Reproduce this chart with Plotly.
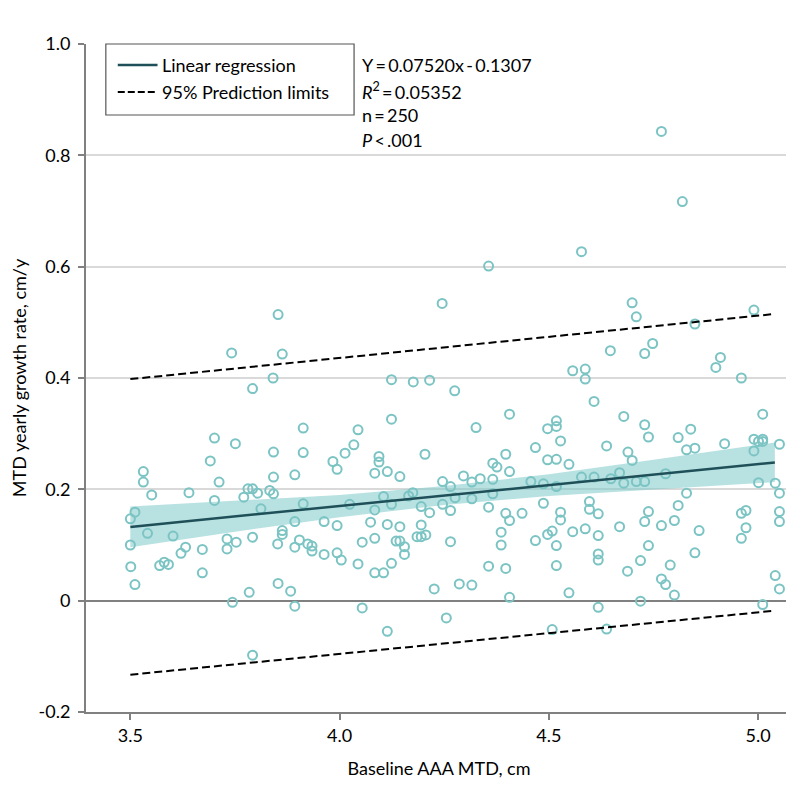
import plotly.graph_objects as go

# ---- data ----
x_pts = [
    3.853, 3.742, 3.863, 3.841, 3.792, 3.913, 3.701, 3.751, 3.842, 3.913, 3.691,
    3.531, 3.531, 3.551, 3.712, 3.640, 3.701, 3.771, 3.781, 3.792, 3.804, 3.833, 3.842, 3.842, 3.893,
    3.913, 3.812, 3.500, 3.511, 3.541, 3.602, 3.500, 3.501, 3.511, 3.570, 3.581, 3.591, 3.621, 3.632,
    3.672, 3.672, 3.731, 3.731, 3.753, 3.792, 3.863, 3.863, 3.852, 3.893, 3.893, 3.904, 3.924, 3.934,
    3.934, 3.744, 3.784, 3.853, 3.883, 3.893, 3.792,
    4.245, 4.124, 4.176, 4.215, 4.275, 4.124, 4.406, 4.044, 4.326, 4.497, 4.034, 4.013, 3.984, 4.094,
    4.094, 4.204, 4.397, 4.468, 4.497, 4.366, 4.376,
    3.994, 4.084, 4.114, 4.144, 4.246, 4.265, 4.296, 4.316, 4.336, 4.366, 4.406, 4.457, 4.487, 4.024,
    4.084, 4.105, 4.124, 4.165, 4.175, 4.195, 4.215, 4.246, 4.265, 4.276, 4.316, 4.356, 4.366, 4.397,
    4.406, 4.436, 4.487, 3.963, 3.994, 4.074, 4.114, 4.144, 4.195, 4.084, 4.054, 4.135, 4.144, 4.155,
    4.155, 4.185, 4.195, 4.206, 4.265, 4.386, 4.386, 4.468, 4.497, 3.963, 3.994, 4.004, 4.044, 4.084,
    4.105, 4.124, 4.356, 4.397, 4.226, 4.286, 4.316, 4.406, 4.054, 4.255, 4.114,
    4.699, 4.709, 4.990, 4.849, 4.647, 4.729, 4.748, 4.899, 4.910, 4.557, 4.587, 4.587, 4.960, 4.608,
    4.679, 4.729, 4.738, 4.518, 4.518, 4.528, 4.518, 4.548, 4.638, 4.689, 4.699, 4.809, 4.839, 4.829,
    4.849, 4.920, 5.011, 4.990, 5.001, 5.011, 5.011, 4.990, 5.051,
    4.518, 4.578, 4.608, 4.648, 4.669, 4.679, 4.709, 4.729, 4.779, 5.001, 5.041, 5.051, 4.829, 4.597,
    4.597, 4.618, 4.528, 4.528, 4.508, 4.557, 4.587, 4.618, 4.669, 4.738, 4.729, 4.809, 4.800, 4.769,
    4.859, 4.960, 4.971, 4.971, 4.960, 5.051, 5.051, 4.518, 4.518, 4.618, 4.618, 4.738, 4.719, 4.688,
    4.849, 4.790, 4.769, 4.779, 4.800, 4.548, 4.719, 4.618, 5.041, 5.051, 5.011, 4.508, 4.638,
    4.769, 4.819, 4.578, 4.356,
]
y_pts = [
    0.514, 0.445, 0.443, 0.400, 0.381, 0.310, 0.292, 0.282, 0.267, 0.266, 0.251,
    0.232, 0.213, 0.190, 0.213, 0.194, 0.180, 0.186, 0.201, 0.201, 0.193, 0.198, 0.222, 0.192, 0.226,
    0.174, 0.165, 0.147, 0.159, 0.121, 0.116, 0.100, 0.061, 0.029, 0.063, 0.069, 0.065, 0.085, 0.096,
    0.092, 0.050, 0.111, 0.093, 0.105, 0.114, 0.126, 0.119, 0.102, 0.142, 0.096, 0.109, 0.102, 0.098,
    0.089, -0.003, 0.015, 0.031, 0.017, -0.010, -0.098,
    0.534, 0.397, 0.393, 0.396, 0.377, 0.326, 0.335, 0.307, 0.311, 0.309, 0.280, 0.265, 0.250, 0.259,
    0.249, 0.263, 0.263, 0.275, 0.253, 0.247, 0.240,
    0.236, 0.229, 0.232, 0.223, 0.214, 0.205, 0.224, 0.213, 0.219, 0.218, 0.232, 0.214, 0.210, 0.173,
    0.163, 0.187, 0.173, 0.188, 0.194, 0.169, 0.158, 0.173, 0.162, 0.185, 0.183, 0.168, 0.192, 0.157,
    0.144, 0.157, 0.175, 0.142, 0.135, 0.141, 0.137, 0.133, 0.136, 0.112, 0.105, 0.107, 0.107, 0.097,
    0.083, 0.115, 0.115, 0.118, 0.106, 0.123, 0.100, 0.108, 0.119, 0.083, 0.086, 0.073, 0.066, 0.050,
    0.050, 0.067, 0.062, 0.058, 0.021, 0.030, 0.028, 0.006, -0.013, -0.031, -0.055,
    0.535, 0.510, 0.522, 0.497, 0.449, 0.444, 0.462, 0.419, 0.437, 0.413, 0.416, 0.398, 0.400, 0.358,
    0.331, 0.316, 0.294, 0.323, 0.313, 0.287, 0.254, 0.245, 0.278, 0.267, 0.252, 0.293, 0.308, 0.271,
    0.274, 0.282, 0.335, 0.290, 0.286, 0.290, 0.286, 0.269, 0.281,
    0.205, 0.222, 0.222, 0.219, 0.230, 0.211, 0.214, 0.214, 0.228, 0.212, 0.211, 0.193, 0.193, 0.178,
    0.164, 0.156, 0.159, 0.145, 0.125, 0.124, 0.129, 0.117, 0.133, 0.160, 0.142, 0.171, 0.144, 0.135,
    0.126, 0.157, 0.162, 0.131, 0.112, 0.160, 0.142, 0.099, 0.063, 0.084, 0.073, 0.099, 0.072, 0.053,
    0.086, 0.064, 0.039, 0.029, 0.010, 0.014, -0.001, -0.012, 0.045, 0.021, -0.007, -0.052, -0.051,
    0.843, 0.717, 0.627, 0.601,
]

# regression line, confidence band and prediction limits
fit_x = [3.5, 3.75, 4.0, 4.25, 4.5, 4.75, 5.04]
fit_y = [0.1325, 0.1513, 0.1701, 0.1889, 0.2077, 0.2265, 0.2483]
band_upper = [0.169, 0.179, 0.190, 0.206, 0.227, 0.253, 0.284]
band_lower = [0.096, 0.124, 0.150, 0.172, 0.188, 0.200, 0.213]
pred_x = [3.5, 5.04]
pred_upper = [0.398, 0.515]
pred_lower = [-0.133, -0.018]

x_ticks = [3.5, 4.0, 4.5, 5.0]
x_ticktext = ["3.5", "4.0", "4.5", "5.0"]
y_ticks = [-0.2, 0, 0.2, 0.4, 0.6, 0.8, 1.0]
y_ticktext = ["-0.2", "0", "0.2", "0.4", "0.6", "0.8", "1.0"]

legend_labels = ["Linear regression", "95% Prediction limits"]
stats_lines = [
    "Y\u2009=\u20090.07520x\u2009-\u20090.1307",
    "<i>R</i><sup>2</sup>\u2009=\u20090.05352",
    "n\u2009=\u2009250",
    "<i>P</i>\u2009<\u2009.001",
]

FONT = "Lato, 'Open Sans', sans-serif"
POINT_COLOR = "#7cc4c4"
BAND_COLOR = "rgba(126,200,200,0.55)"
LINE_COLOR = "#1f4f58"
AXIS_COLOR = "#808080"
PRED_DASH = "8px,4px"

fig = go.Figure()

fig.add_trace(go.Scatter(
    x=fit_x + fit_x[::-1], y=band_upper + band_lower[::-1],
    fill="toself", fillcolor=BAND_COLOR, line=dict(width=0),
    mode="lines", showlegend=False, hoverinfo="skip"))

fig.add_trace(go.Scatter(
    x=x_pts, y=y_pts, mode="markers", showlegend=False,
    marker=dict(symbol="circle-open", size=9, color=POINT_COLOR,
                line=dict(width=2, color=POINT_COLOR))))

fig.add_trace(go.Scatter(
    x=fit_x, y=fit_y, mode="lines", name=legend_labels[0], showlegend=False,
    line=dict(color=LINE_COLOR, width=2.5)))

fig.add_trace(go.Scatter(
    x=pred_x, y=pred_upper, mode="lines", name=legend_labels[1], showlegend=False,
    line=dict(color="black", width=2, dash=PRED_DASH)))
fig.add_trace(go.Scatter(
    x=pred_x, y=pred_lower, mode="lines", showlegend=False,
    line=dict(color="black", width=2, dash=PRED_DASH)))

# ---- legend box (drawn in paper coordinates) ----
fig.add_shape(type="rect", xref="paper", yref="paper",
              x0=0.0281, x1=0.3797, y0=0.8937, y1=1.0,
              line=dict(color="#555555", width=1.2), fillcolor="white", layer="above")
legend_rows = [0.9686, 0.9281]
legend_styles = [dict(color=LINE_COLOR, width=2.5),
                 dict(color="black", width=2, dash="7px,3px")]
for row_y, style, label in zip(legend_rows, legend_styles, legend_labels):
    fig.add_shape(type="line", xref="paper", yref="paper",
                  x0=0.045, x1=0.1013, y0=row_y, y1=row_y, line=style, layer="above")
    fig.add_annotation(xref="paper", yref="paper", x=0.1055, y=row_y,
                       xanchor="left", yanchor="middle", showarrow=False,
                       text=label, font=dict(family=FONT, size=18, color="black"))

# ---- statistics text ----
stats_rows = [0.9686, 0.9296, 0.8937, 0.8570]
for row_y, txt in zip(stats_rows, stats_lines):
    fig.add_annotation(xref="paper", yref="paper", x=0.388, y=row_y,
                       xanchor="left", yanchor="middle", showarrow=False,
                       text=txt, font=dict(family=FONT, size=18, color="black"))

fig.update_layout(
    width=794, height=797,
    margin=dict(l=73, r=10, t=36, b=93),
    paper_bgcolor="white", plot_bgcolor="white",
    font=dict(family=FONT, size=18, color="black"),
    showlegend=False,
    xaxis=dict(range=[3.394, 5.081], tickvals=x_ticks, ticktext=x_ticktext,
               showgrid=False, zeroline=False, showline=True, linecolor=AXIS_COLOR,
               linewidth=2, ticks="outside", ticklen=6, tickwidth=1.5, tickcolor=AXIS_COLOR,
               title=dict(text="Baseline AAA MTD, cm", font=dict(size=18), standoff=18),
               tickfont=dict(size=18)),
    yaxis=dict(range=[-0.2, 1.0], tickvals=y_ticks, ticktext=y_ticktext,
               showgrid=True, gridcolor="#d9d9d9", gridwidth=1.5,
               zeroline=True, zerolinecolor=AXIS_COLOR, zerolinewidth=2,
               showline=True, linecolor=AXIS_COLOR, linewidth=2,
               ticks="outside", ticklen=6, tickwidth=1.5, tickcolor=AXIS_COLOR,
               ticklabelstandoff=4,
               title=dict(text="MTD yearly growth rate, cm/y", font=dict(size=18), standoff=8),
               tickfont=dict(size=18)),
)

fig.write_html("out.html")
